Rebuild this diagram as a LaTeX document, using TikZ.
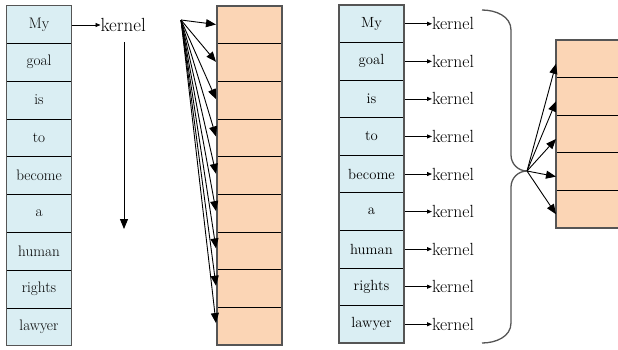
\documentclass[tikz,border=0pt]{standalone}
\usepackage{fontspec}
\usetikzlibrary{arrows.meta,calc}
\definecolor{cellblue}{HTML}{DAEEF3}
\definecolor{cellorange}{HTML}{FBD5B5}
\definecolor{framegray}{HTML}{555555}
\tikzset{
  bcell/.style={draw=black, line width=0.8pt, fill=cellblue, inner sep=0pt, outer sep=0pt, minimum width=65pt, anchor=center},
  ocell/.style={draw=black, line width=0.8pt, fill=cellorange, inner sep=0pt, outer sep=0pt, minimum width=65pt, anchor=center},
  frame/.style={draw=framegray, line width=1.3pt},
  kern/.style={inner sep=0pt, outer sep=0pt, anchor=west},
  smallarrow/.style={-{Triangle[length=5pt,width=4pt]}, line width=0.8pt},
  bigarrow/.style={-{Triangle[length=10pt,width=8pt]}, line width=0.9pt},
  bracestyle/.style={draw=framegray, line width=1.3pt}
}
\begin{document}
\begin{tikzpicture}[x=1pt,y=-1pt]
\useasboundingbox (0,0) rectangle (618,349);
\clip (0,0) rectangle (618,349);
% left blue column
\foreach \w [count=\i] in {My,goal,is,to,become,a,human,rights,lawyer}{
  \node[bcell, minimum height=37.8pt, font={\fontsize{15.2}{17}\selectfont}] (L\i) at (39,{5.5+37.8*(\i-0.5)}) {\w};
}
\draw[frame] (L1.north west) rectangle (L9.south east);
% left orange column
\foreach \i in {1,...,9}{
  \node[ocell, minimum height=37.67pt] (O\i) at (249.5,{6+37.67*(\i-0.5)}) {};
}
\draw[frame] (O1.north west) rectangle (O9.south east);
% left kernel
\node[kern, font={\fontsize{19}{21}\selectfont}] (K0) at (100.5,25) {kernel};
\draw[smallarrow] (L1.east |- K0.west) -- (K0.west);
\coordinate (va) at (124,42);
\coordinate (vb) at (124,229);
\draw[bigarrow] (va) -- (vb);
% fan
\coordinate (fs) at (181,20);
\foreach \i in {1,...,9}{
  \draw[bigarrow] (fs) -- ($(O\i.west)+(-1,{-0.35*\i})$);
}
% right blue column
\foreach \w [count=\i] in {My,goal,is,to,become,a,human,rights,lawyer}{
  \node[bcell, minimum height=37.56pt, font={\fontsize{14.7}{16}\selectfont}] (R\i) at (371.5,{5+37.56*(\i-0.5)}) {\w};
  \node[kern, font={\fontsize{17.6}{19}\selectfont}] (K\i) at (432,{5+37.56*(\i-0.5)}) {kernel};
  \draw[smallarrow] (R\i.east) -- (K\i.west);
}
\draw[frame] (R1.north west) rectangle (R9.south east);
% brace
\coordinate (ba) at (482,10);
\coordinate (bb) at (482,343);
\coordinate (bt) at (527,171);
\draw[bracestyle] (ba) to[out=0,in=90] (511,30) -- (511,155) to[out=-90,in=180] (bt)
  to[out=180,in=90] (511,187) -- (511,323) to[out=-90,in=0] (bb);
% right orange column
\foreach \i in {1,...,5}{
  \node[ocell, minimum height=37.6pt] (P\i) at (588.5,{40+37.6*(\i-0.5)}) {};
}
\draw[frame] (P1.north west) rectangle (P5.south east);
\foreach \i in {1,...,5}{
  \draw[bigarrow] (bt) -- ($(P\i.west)+(0,5)$);
}
\end{tikzpicture}
\end{document}
